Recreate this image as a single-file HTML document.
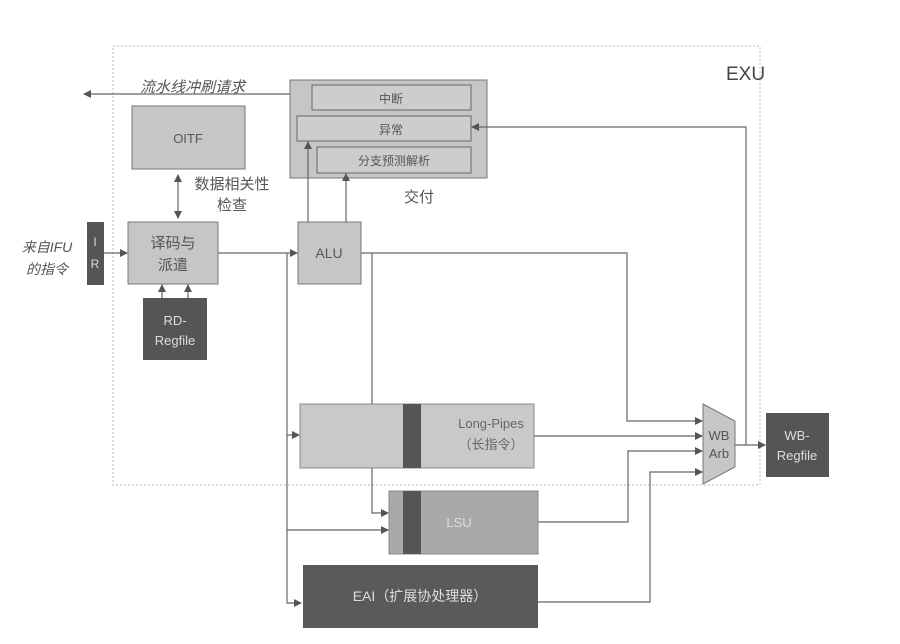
<!DOCTYPE html>
<html><head><meta charset="utf-8"><style>
html,body{margin:0;padding:0;background:#fff;}
svg{display:block;font-family:"Liberation Sans","Noto Sans CJK SC",sans-serif;}
</style></head><body>
<svg width="900" height="644" viewBox="0 0 900 644" xmlns="http://www.w3.org/2000/svg">
<defs>
<marker id="a" markerWidth="8" markerHeight="8" refX="7" refY="4" orient="auto" markerUnits="userSpaceOnUse">
<path d="M0,0 L8,4 L0,8 z" fill="#555"/></marker>
<marker id="s" markerWidth="8" markerHeight="8" refX="1" refY="4" orient="auto" markerUnits="userSpaceOnUse">
<path d="M8,0 L0,4 L8,8 z" fill="#555"/></marker>
</defs>
<rect x="113" y="46" width="647" height="439" fill="none" stroke="#bbb" stroke-dasharray="2,2"/>
<text x="726" y="80" font-size="19" fill="#444">EXU</text>

<rect x="290" y="80" width="197" height="98" fill="#c6c6c6" stroke="#777"/>
<rect x="312" y="85" width="159" height="25" fill="#cdcdcd" stroke="#666"/>
<text x="391" y="103" font-size="12" fill="#555" text-anchor="middle">中断</text>
<rect x="297" y="116" width="174" height="25" fill="#cdcdcd" stroke="#666"/>
<text x="391" y="134" font-size="12" fill="#555" text-anchor="middle">异常</text>
<rect x="317" y="147" width="154" height="26" fill="#cdcdcd" stroke="#666"/>
<text x="394" y="165" font-size="12" fill="#555" text-anchor="middle">分支预测解析</text>
<text x="419" y="202" font-size="15" fill="#555" text-anchor="middle">交付</text>

<g stroke="#666" stroke-width="1.2" fill="none">
<line x1="290" y1="94" x2="84" y2="94" marker-end="url(#a)"/>
<line x1="178" y1="175" x2="178" y2="218" marker-start="url(#s)" marker-end="url(#a)"/>
<line x1="104" y1="253" x2="127" y2="253" marker-end="url(#a)"/>
<line x1="162" y1="298" x2="162" y2="285" marker-end="url(#a)"/>
<line x1="188" y1="298" x2="188" y2="285" marker-end="url(#a)"/>
<line x1="218" y1="253" x2="297" y2="253" marker-end="url(#a)"/>
<polyline points="287,253 287,603 301,603" marker-end="url(#a)"/>
<line x1="287" y1="435" x2="299" y2="435" marker-end="url(#a)"/>
<line x1="287" y1="530" x2="388" y2="530" marker-end="url(#a)"/>
<line x1="308" y1="222" x2="308" y2="142" marker-end="url(#a)"/>
<line x1="346" y1="222" x2="346" y2="174" marker-end="url(#a)"/>
<polyline points="361,253 627,253 627,421 702,421" marker-end="url(#a)"/>
<polyline points="372,253 372,513 388,513" marker-end="url(#a)"/>
<line x1="534" y1="436" x2="702" y2="436" marker-end="url(#a)"/>
<polyline points="538,522 628,522 628,451 702,451" marker-end="url(#a)"/>
<polyline points="538,602 650,602 650,472 702,472" marker-end="url(#a)"/>
<line x1="735" y1="445" x2="765" y2="445" marker-end="url(#a)"/>
<polyline points="746,445 746,127 472,127" marker-end="url(#a)"/>
</g>

<text x="140" y="92" font-size="15" font-style="italic" fill="#555">流水线冲刷请求</text>

<rect x="132" y="106" width="113" height="63" fill="#c6c6c6" stroke="#777"/>
<text x="188" y="143" font-size="13" fill="#555" text-anchor="middle">OITF</text>
<text x="232" y="189" font-size="15" fill="#555" text-anchor="middle">数据相关性</text>
<text x="232" y="210" font-size="15" fill="#555" text-anchor="middle">检查</text>

<text x="47" y="252" font-size="14" font-style="italic" fill="#555" text-anchor="middle">来自IFU</text>
<text x="47" y="274" font-size="14" font-style="italic" fill="#555" text-anchor="middle">的指令</text>
<rect x="87" y="222" width="17" height="63" fill="#555"/>
<text x="95" y="246" font-size="12" fill="#ddd" text-anchor="middle">I</text>
<text x="95" y="268" font-size="12" fill="#ddd" text-anchor="middle">R</text>

<rect x="128" y="222" width="90" height="62" fill="#c6c6c6" stroke="#777"/>
<text x="173" y="248" font-size="15" fill="#555" text-anchor="middle">译码与</text>
<text x="173" y="270" font-size="15" fill="#555" text-anchor="middle">派遣</text>

<rect x="143" y="298" width="64" height="62" fill="#555"/>
<text x="175" y="325" font-size="13" fill="#ddd" text-anchor="middle">RD-</text>
<text x="175" y="345" font-size="13" fill="#ddd" text-anchor="middle">Regfile</text>

<rect x="298" y="222" width="63" height="62" fill="#c6c6c6" stroke="#777"/>
<text x="329" y="258" font-size="14" fill="#555" text-anchor="middle">ALU</text>

<rect x="300" y="404" width="234" height="64" fill="#c9c9c9" stroke="#888"/>
<rect x="403" y="404" width="18" height="64" fill="#555"/>
<text x="491" y="428" font-size="13" fill="#666" text-anchor="middle">Long-Pipes</text>
<text x="491" y="449" font-size="13" fill="#666" text-anchor="middle">（长指令）</text>

<rect x="389" y="491" width="149" height="63" fill="#a9a9a9" stroke="#888"/>
<rect x="403" y="491" width="18" height="63" fill="#555"/>
<text x="459" y="527" font-size="13" fill="#ddd" text-anchor="middle">LSU</text>

<rect x="303" y="565" width="235" height="63" fill="#5a5a5a"/>
<text x="420" y="601" font-size="14" fill="#ddd" text-anchor="middle">EAI（扩展协处理器）</text>

<polygon points="703,404 735,421 735,467 703,484" fill="#c6c6c6" stroke="#777"/>
<text x="719" y="440" font-size="13" fill="#555" text-anchor="middle">WB</text>
<text x="719" y="458" font-size="13" fill="#555" text-anchor="middle">Arb</text>

<rect x="766" y="413" width="63" height="64" fill="#555"/>
<text x="797" y="440" font-size="13" fill="#ddd" text-anchor="middle">WB-</text>
<text x="797" y="460" font-size="13" fill="#ddd" text-anchor="middle">Regfile</text>
</svg>
</body></html>
